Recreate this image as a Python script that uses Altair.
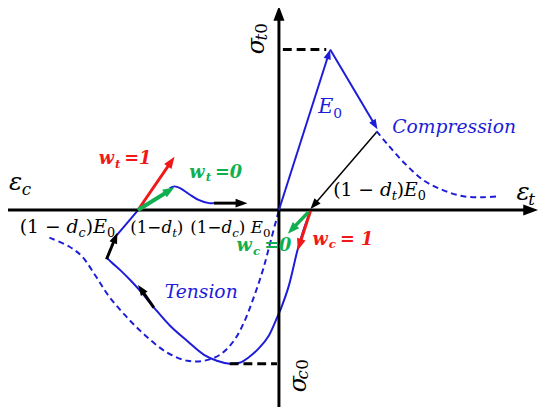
import math
import altair as alt
import numpy as np
import pandas as pd

BLUE = "#1c1cd9"
RED = "#f01818"
GREEN = "#10b050"
BLACK = "#000000"
FONT = "DejaVu Serif"
NB = "\u00a0"

# ---------------- curve data (reference pixel coordinates, y downward) ----------------
tension_x = [315, 308, 302, 293, 285, 282, 273, 263, 253, 243, 233, 220, 207, 190, 173, 157, 143, 133, 123, 113, 108]
tension_y = [211, 230, 250, 287, 310, 317, 337, 350, 359, 365, 366, 363, 357, 343, 328, 310, 293, 282, 272, 263, 258]
reload_x = [118, 140, 146]
reload_y = [236, 210, 203]
bump_x = [172, 177, 183, 192, 202, 212, 218]
bump_y = [188, 186, 188, 194, 200, 203, 203]
comp_dash_x = [382, 393, 410, 430, 450, 470, 490, 506]
comp_dash_y = [130, 143, 162, 180, 190, 196, 197, 196]
tens_dash_x = [50, 70, 83, 97, 110, 127, 147, 170, 190, 207, 223, 237, 248, 258, 267, 275, 283]
tens_dash_y = [238, 247, 257, 277, 297, 317, 337, 355, 363, 363, 357, 343, 323, 297, 270, 240, 210]
sig_t_dash_x = [287, 331]
sig_t_dash_y = [47, 47]
sig_c_dash_x = [233, 281]
sig_c_dash_y = [366, 366]

# ---------------- arrows: start, tip, colour, shaft width, head size ----------------
arrow_x0 = [8, 283, 283, 335, 382, 315, 313, 140, 140, 217, 156, 108]
arrow_y0 = [210, 410, 210, 47, 131, 211, 212, 210, 210, 203, 309, 260]
arrow_x1 = [546, 283, 335, 383, 315, 302, 292, 177, 177, 251, 140, 119]
arrow_y1 = [210, 3, 47, 128, 209, 251, 234, 156, 187, 203, 286, 233]
arrow_col = [BLACK, BLACK, BLUE, BLUE, BLACK, RED, GREEN, RED, GREEN, BLACK, BLACK, BLACK]
arrow_w = [3, 3, 2, 2, 1.5, 3, 3.5, 3, 4, 3, 3, 3]
arrow_head = [15, 15, 10, 10, 11, 12, 12, 12, 12, 12, 11, 11]

# ---------------- labels: text, x, y (baseline), size, colour, style, weight, angle ----------------
labels = [
    ("ε", 9, 190, 25, BLACK, "italic", "normal", 0),
    ("c", 22, 195, 17, BLACK, "italic", "normal", 0),
    ("ε", 524, 200, 25, BLACK, "italic", "normal", 0),
    ("t", 536, 205, 17, BLACK, "italic", "normal", 0),
    ("σ", 268, 52, 24, BLACK, "italic", "normal", 270),
    ("t", 271, 38, 17, BLACK, "italic", "normal", 270),
    ("0", 271, 31, 17, BLACK, "normal", "normal", 270),
    ("σ", 310, 395, 24, BLACK, "italic", "normal", 270),
    ("c", 313, 382, 17, BLACK, "italic", "normal", 270),
    ("0", 313, 372, 17, BLACK, "normal", "normal", 270),
    ("E", 323, 112, 21, BLUE, "italic", "normal", 0),
    ("0", 338, 117, 14, BLUE, "normal", "normal", 0),
    ("Compression", 398, 132, 19, BLUE, "italic", "normal", 0),
    ("Tension", 167, 299, 19, BLUE, "italic", "normal", 0),
    # (1 - d_t)E_0 right
    ("(1 −", 338, 196, 19, BLACK, "normal", "normal", 0),
    ("d", 385.5, 196, 19, BLACK, "italic", "normal", 0),
    ("t", 397.5, 200, 13, BLACK, "italic", "normal", 0),
    (")", 402.5, 196, 19, BLACK, "normal", "normal", 0),
    ("E", 410, 196, 19, BLACK, "italic", "normal", 0),
    ("0", 424, 200, 13, BLACK, "normal", "normal", 0),
    # (1 - d_c)E_0 left
    ("(1 −", 20, 233, 19, BLACK, "normal", "normal", 0),
    ("d", 67.5, 233, 19, BLACK, "italic", "normal", 0),
    ("c", 79.5, 237, 13, BLACK, "italic", "normal", 0),
    (")", 87, 233, 19, BLACK, "normal", "normal", 0),
    ("E", 94.5, 233, 19, BLACK, "italic", "normal", 0),
    ("0", 108.5, 237, 13, BLACK, "normal", "normal", 0),
    # (1-d_t)
    ("(1−", 132, 233, 17, BLACK, "normal", "normal", 0),
    ("d", 163.7, 233, 17, BLACK, "italic", "normal", 0),
    ("t", 174.6, 237, 12, BLACK, "italic", "normal", 0),
    (")", 179.4, 233, 17, BLACK, "normal", "normal", 0),
    # (1-d_c) E_0
    ("(1−", 193, 233, 17, BLACK, "normal", "normal", 0),
    ("d", 224.7, 233, 17, BLACK, "italic", "normal", 0),
    ("c", 235.6, 237, 12, BLACK, "italic", "normal", 0),
    (")", 242.3, 233, 17, BLACK, "normal", "normal", 0),
    ("E", 254.3, 233, 17, BLACK, "italic", "normal", 0),
    ("0", 266.8, 237, 12, BLACK, "normal", "normal", 0),
    # w labels
    ("w", 100, 163, 18, RED, "italic", "bold", 0),
    ("t", 116.6, 167, 12, RED, "italic", "bold", 0),
    ("=1", 126, 163, 18, RED, "italic", "bold", 0),
    ("w", 192, 177, 18, GREEN, "italic", "bold", 0),
    ("t", 208.6, 181, 12, GREEN, "italic", "bold", 0),
    ("=0", 218, 177, 18, GREEN, "italic", "bold", 0),
    ("w", 240, 252, 18, GREEN, "italic", "bold", 0),
    ("c", 256.6, 256, 12, GREEN, "italic", "bold", 0),
    ("=0", 268, 252, 18, GREEN, "italic", "bold", 0),
    ("w", 317, 245, 18, RED, "italic", "bold", 0),
    ("c", 333.6, 249, 12, RED, "italic", "bold", 0),
    ("=" + NB + "1", 345, 245, 18, RED, "italic", "bold", 0),
]

# ---------------- build tables ----------------
def seg_rows(name, xs, ys, **extra):
    return [dict(seg=name, ord=i, x=x, y=y, **extra) for i, (x, y) in enumerate(zip(xs, ys))]

solid_df = pd.DataFrame(
    seg_rows("tension", tension_x, tension_y)
    + seg_rows("reload", reload_x, reload_y)
    + seg_rows("bump", bump_x, bump_y)
)
dashed_df = pd.DataFrame(
    seg_rows("comp", comp_dash_x, comp_dash_y) + seg_rows("tens", tens_dash_x, tens_dash_y)
)
black_dash_df = pd.DataFrame(
    seg_rows("st", sig_t_dash_x, sig_t_dash_y) + seg_rows("sc", sig_c_dash_x, sig_c_dash_y)
)

shaft_rows, head_rows = [], []
for k in range(len(arrow_x0)):
    x0, y0, x1, y1 = arrow_x0[k], arrow_y0[k], arrow_x1[k], arrow_y1[k]
    L = math.hypot(x1 - x0, y1 - y0)
    ux, uy = (x1 - x0) / L, (y1 - y0) / L
    h = arrow_head[k]
    ex, ey = x1 - ux * h * 0.7, y1 - uy * h * 0.7
    shaft_rows += seg_rows(f"a{k}", [x0, ex], [y0, ey], color=arrow_col[k], w=arrow_w[k])
    head_rows.append(dict(x=x1 - ux * h / 2, y=y1 - uy * h / 2,
                          ang=(math.degrees(math.atan2(ux, -uy)) + 360) % 360,
                          size=h * h, color=arrow_col[k]))
shaft_df = pd.DataFrame(shaft_rows)
head_df = pd.DataFrame(head_rows)
label_df = pd.DataFrame(labels, columns=["text", "x", "y", "size", "color", "style", "weight", "angle"])

X = alt.X("x:Q", scale=alt.Scale(domain=[8, 550], nice=False, zero=False), axis=None)
Y = alt.Y("y:Q", scale=alt.Scale(domain=[8, 415], nice=False, zero=False, reverse=True), axis=None)

solid = alt.Chart(solid_df).mark_line(color=BLUE, strokeWidth=2, interpolate="catmull-rom").encode(
    x=X, y=Y, detail="seg:N", order="ord:Q")
dashed = alt.Chart(dashed_df).mark_line(color=BLUE, strokeWidth=2, strokeDash=[6, 4],
                                        interpolate="catmull-rom").encode(
    x=X, y=Y, detail="seg:N", order="ord:Q")
bdash = alt.Chart(black_dash_df).mark_line(color=BLACK, strokeWidth=3, strokeDash=[9, 5]).encode(
    x=X, y=Y, detail="seg:N", order="ord:Q")
shafts = alt.Chart(shaft_df).mark_line().encode(
    x=X, y=Y, detail="seg:N", order="ord:Q",
    color=alt.Color("color:N", scale=None),
    strokeWidth=alt.StrokeWidth("w:Q", scale=None))
heads = alt.Chart(head_df).mark_point(shape="M0,-1L0.75,1L-0.75,1Z", filled=True, opacity=1,
                                      strokeWidth=0).encode(
    x=X, y=Y,
    color=alt.Color("color:N", scale=None),
    size=alt.Size("size:Q", scale=None),
    angle=alt.Angle("ang:Q", scale=None))

text_layers = []
for (st, wt), sub in label_df.groupby(["style", "weight"]):
    text_layers.append(
        alt.Chart(sub).mark_text(font=FONT, fontStyle=st, fontWeight=wt, align="left",
                                 baseline="alphabetic").encode(
            x=X, y=Y, text="text:N",
            size=alt.Size("size:Q", scale=None),
            color=alt.Color("color:N", scale=None),
            angle=alt.Angle("angle:Q", scale=None)))

chart = alt.layer(dashed, solid, bdash, shafts, heads, *text_layers).properties(
    width=542, height=407, autosize="none", padding=0, background="white"
).configure_view(stroke=None)

chart.save("out.html", embed_options={"renderer": "svg", "actions": False})
